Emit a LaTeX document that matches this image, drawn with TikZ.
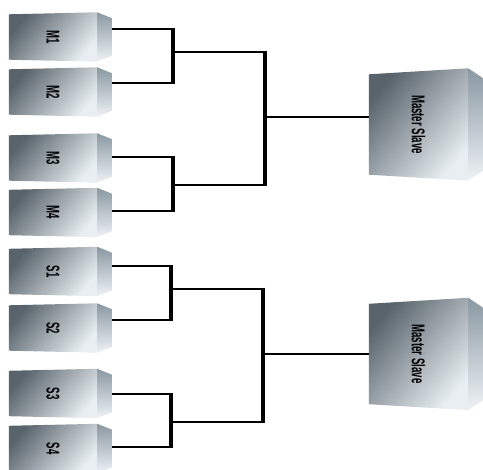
\documentclass[tikz,border=0pt]{standalone}
\usepackage{fontspec}
\usetikzlibrary{backgrounds}
\newfontfamily\narrowfont[FakeStretch=0.52]{Liberation Sans Bold}

\definecolor{facedark}{RGB}{88,99,108}
\definecolor{facelight}{RGB}{232,238,241}
\definecolor{sidetop}{RGB}{138,152,162}
\definecolor{sidebottom}{RGB}{238,242,245}

\tikzset{
  unit/.style={minimum width=88pt, minimum height=47pt, inner sep=0pt,
    font=\narrowfont\fontsize{18.5}{18.5}\selectfont},
  bigunit/.style={unit, minimum width=99pt, minimum height=106pt},
  face/.style={shading=axis, top color=facedark, bottom color=facelight, shading angle=50},
  side/.style={shading=axis, top color=sidetop, bottom color=sidebottom},
  wire/.style={line width=2.6pt},
  bar/.style={line width=4.6pt, shorten <=-1.3pt, shorten >=-1.3pt},
}

\begin{document}
\begin{tikzpicture}[x=1pt, y=-1pt]
  \useasboundingbox (0,0) rectangle (483,470);

  % units and their output points
  \foreach \n/\t/\y/\w in {m1/M1/37/29, m2/M2/92/83, m3/M3/158/157, m4/M4/212.5/211,
                           s1/S1/271.5/266, s2/S2/328/320, s3/S3/393.5/394, s4/S4/448.5/447} {
    \node[unit] (\n) at (53,\y) {\rotatebox{-90}{\t}};
    \coordinate (\n-o) at (112,\w);
  }
  \node[bigunit] (ms1) at (418.5,124.5) {\rotatebox{-90}{Master Slave}};
  \node[bigunit] (ms2) at (418.5,354) {\rotatebox{-90}{Master Slave}};

  % boxes: slightly skewed front face plus a side face
  \begin{scope}[on background layer]
    \clip (0,0) rectangle (483,470);
    \foreach \n/\s/\d in {m1/1/6, m2/1/6, m3/1/6, m4/1/6, s1/1/6, s2/1/6, s3/1/6, s4/1/6,
                          ms1/3/10, ms2/3/10} {
      \shade[face] ([yshift=-\s pt]\n.north west) -- ([yshift=\s pt]\n.north east)
        -- ([yshift=-\s pt]\n.south east) -- ([yshift=\s pt]\n.south west) -- cycle;
      \shade[side] ([yshift=\s pt]\n.north east) -- ++(15,\d)
        -- ([shift={(15pt,\d pt-\s pt)}]\n.south east) -- ([yshift=-\s pt]\n.south east) -- cycle;
    }
  \end{scope}

  % junctions
  \coordinate (j1) at (173,52);
  \coordinate (j2) at (173,185);
  \coordinate (j3) at (171,289);
  \coordinate (j4) at (171,422);
  \coordinate (jm) at (265,117);
  \coordinate (js) at (263,354);

  % first stage
  \draw[wire] (m1-o) -| (j1) |- (m2-o);
  \draw[bar] (m1-o -| j1) -- (m2-o -| j1);
  \draw[wire] (m3-o) -| (j2) |- (m4-o);
  \draw[bar] (m3-o -| j2) -- (m4-o -| j2);
  \draw[wire] (s1-o) -| (j3) |- (s2-o);
  \draw[bar] (s1-o -| j3) -- (s2-o -| j3);
  \draw[wire] (s3-o) -| (j4) |- (s4-o);
  \draw[bar] (s3-o -| j4) -- (s4-o -| j4);

  % second stage
  \draw[wire] (j1) -| (jm) |- (j2);
  \draw[bar] (j1 -| jm) -- (j2 -| jm);
  \draw[wire] (j3) -| (js) |- (j4);
  \draw[bar] (j3 -| js) -- (j4 -| js);

  \draw[wire] (jm) -- (jm -| ms1.west);
  \draw[wire] (js) -- (js -| ms2.west);
\end{tikzpicture}
\end{document}
